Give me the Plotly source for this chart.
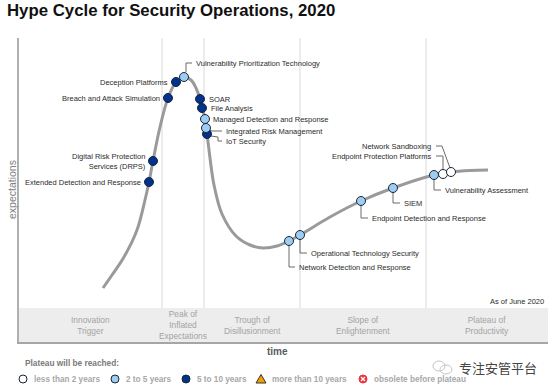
import plotly.graph_objects as go

# ---------------- data ----------------
TITLE = "Hype Cycle for Security Operations, 2020"

technologies = [
    "Extended Detection and Response", "Digital Risk Protection<br>Services (DRPS)",
    "Breach and Attack Simulation", "Deception Platforms",
    "Vulnerability Prioritization Technology", "SOAR", "File Analysis",
    "Managed Detection and Response", "Integrated Risk Management", "IoT Security",
    "Network Detection and Response", "Operational Technology Security",
    "Endpoint Detection and Response", "SIEM", "Vulnerability Assessment",
    "Endpoint Protection Platforms", "Network Sandboxing",
]
time_pos = [130, 134, 149, 157, 165, 181, 183, 186, 187, 188, 270, 281, 342, 374, 415, 424, 432]
expectation = [160, 181, 244, 260, 265, 243, 234, 223, 214, 208, 101, 107, 141, 154, 167, 168, 170]
plateau = ["5to10", "5to10", "5to10", "5to10", "2to5", "5to10", "5to10", "2to5", "2to5", "5to10",
           "2to5", "2to5", "2to5", "2to5", "2to5", "lt2", "lt2"]

curve_time = [84, 93, 105, 118, 126, 130, 134, 141, 149, 157, 165, 172, 177, 181, 185, 188, 191,
              195, 203, 217, 231, 244, 258, 270, 281, 311, 342, 374, 415, 432, 451, 469]
curve_expect = [54, 67, 85, 112, 142, 160, 181, 215, 244, 260, 265, 262, 254, 243, 227, 208, 184,
                157, 128, 106, 97, 94, 96, 101, 107, 125, 141, 154, 167, 170, 171.5, 172]

phase_names = ["Innovation<br>Trigger", "Peak of<br>Inflated<br>Expectations",
               "Trough of<br>Disillusionment", "Slope of<br>Enlightenment",
               "Plateau of<br>Productivity"]
phase_bounds = [0, 143, 185, 281, 407, 529]

legend_title = "Plateau will be reached:"
legend_keys = ["lt2", "2to5", "5to10", "gt10", "obsolete"]
legend_labels = ["less than 2 years", "2 to 5 years", "5 to 10 years",
                 "more than 10 years", "obsolete before plateau"]

# ---------------- styles ----------------
FONT = "Liberation Sans, Arial, sans-serif"
FILL = {"lt2": "#ffffff", "2to5": "#9dcdf3", "5to10": "#00338d"}
EDGE = "#1c2438"
X_MAX, Y_MAX = 529, 304
L, T = 19, 38


def px(x):
    return (x - L) / X_MAX


def py(y):
    return (342 - y) / Y_MAX


# label placement: (kind, text dx, text dy, leader path offsets)
LABEL_LAYOUT = {
    "Extended Detection and Response": ("left", -6, 0, None),
    "Digital Risk Protection<br>Services (DRPS)": ("left", -5, 0, None),
    "Breach and Attack Simulation": ("left", -6, 0, None),
    "Deception Platforms": ("left", -6, 0, None),
    "Vulnerability Prioritization Technology": ("right", 10, 14, [(2, 5), (2, 14), (8, 14)]),
    "SOAR": ("right", 7, 0, None),
    "File Analysis": ("right", 7, 0, None),
    "Managed Detection and Response": ("right", 6, 0, None),
    "Integrated Risk Management": ("right", 18, -3, [(3, -2), (6, -3), (16, -3)]),
    "IoT Security": ("right", 17, -7, [(4, -2), (11, -3), (11, -7), (15, -7)]),
    "Network Detection and Response": ("right", 8, -26, [(0, -4), (0, -26), (6, -26)]),
    "Operational Technology Security": ("right", 9, -18, [(0, -4), (0, -18), (7, -18)]),
    "Endpoint Detection and Response": ("right", 9, -17, [(0, -4), (0, -17), (7, -17)]),
    "SIEM": ("right", 9, -15, [(0, -4), (0, -15), (7, -15)]),
    "Vulnerability Assessment": ("right", 9, -15, [(0, -4), (0, -15), (7, -15)]),
    "Endpoint Protection Platforms": ("left", -10, 18, [(0, 4), (0, 18), (-7, 18)]),
    "Network Sandboxing": ("left", -18, 26, [(-1, 4), (-9, 26), (-15, 26)]),
}

fig = go.Figure()

# hype curve
fig.add_trace(go.Scatter(x=curve_time, y=curve_expect, mode="lines",
                         line=dict(color="#9a9a9a", width=3, shape="spline", smoothing=1.0),
                         hoverinfo="skip", showlegend=False))

# leader lines
lx, ly = [], []
for name, t, e in zip(technologies, time_pos, expectation):
    path = LABEL_LAYOUT[name][3]
    if path:
        for dx, dy in path:
            lx.append(t + dx)
            ly.append(e + dy)
        lx.append(None)
        ly.append(None)
fig.add_trace(go.Scatter(x=lx, y=ly, mode="lines", line=dict(color="#6b6b6b", width=1),
                         hoverinfo="skip", showlegend=False))

# technology dots
for key in ["5to10", "2to5", "lt2"]:
    xs = [t for t, p in zip(time_pos, plateau) if p == key]
    ys = [e for e, p in zip(expectation, plateau) if p == key]
    fig.add_trace(go.Scatter(x=xs, y=ys, mode="markers",
                             marker=dict(size=9, color=FILL[key], line=dict(color=EDGE, width=1)),
                             hoverinfo="skip", showlegend=False))

annotations = []
for name, t, e in zip(technologies, time_pos, expectation):
    kind, dx, dy, _ = LABEL_LAYOUT[name]
    annotations.append(dict(x=t + dx, y=e + dy, xref="x", yref="y", text=name, showarrow=False,
                            xanchor="right" if kind == "left" else "left",
                            align="right" if kind == "left" else "left",
                            yanchor="middle",
                            font=dict(family=FONT, size=7.5, color="#2b2b2b")))

shapes = []
# phase band
shapes.append(dict(type="rect", xref="x", yref="y", x0=0, x1=X_MAX, y0=0, y1=34,
                   fillcolor="#ededed", line=dict(width=0), layer="below"))
# dividers
for b in phase_bounds[1:-1]:
    shapes.append(dict(type="line", xref="x", yref="y", x0=b, x1=b, y0=34, y1=Y_MAX,
                       line=dict(color="#d9d9d9", width=1), layer="below"))
# phase labels
for i, nm in enumerate(phase_names):
    cx = (phase_bounds[i] + phase_bounds[i + 1]) / 2
    annotations.append(dict(x=cx, y=17, xref="x", yref="y", text=nm, showarrow=False,
                            xanchor="center", yanchor="middle", align="center",
                            font=dict(family=FONT, size=8.4, color="#a3a3a3")))

annotations.append(dict(x=px(546), y=py(301), xref="paper", yref="paper", text="As of June 2020",
                        showarrow=False, xanchor="right", yanchor="middle",
                        font=dict(family=FONT, size=7.5, color="#2b2b2b")))

# title & axis titles
annotations.append(dict(x=px(5), y=py(11), xref="paper", yref="paper", text="<b>" + TITLE + "</b>",
                        showarrow=False, xanchor="left", yanchor="middle",
                        font=dict(family=FONT, size=16.8, color="#111111")))
annotations.append(dict(x=px(12), y=py(190), xref="paper", yref="paper", text="expectations",
                        showarrow=False, xanchor="center", yanchor="middle", textangle=-90,
                        font=dict(family=FONT, size=10.5, color="#808080")))
annotations.append(dict(x=px(277), y=py(351), xref="paper", yref="paper", text="<b>time</b>",
                        showarrow=False, xanchor="center", yanchor="middle",
                        font=dict(family=FONT, size=10, color="#5a5a5a")))

# legend
annotations.append(dict(x=px(23), y=py(363), xref="paper", yref="paper",
                        text="<b>" + legend_title + "</b>", showarrow=False,
                        xanchor="left", yanchor="middle",
                        font=dict(family=FONT, size=8.3, color="#7a7a7a")))
LEG_MARK_X = [23, 115, 186, 261, 363]
LEG_Y = 379
for key, lab, mx in zip(legend_keys, legend_labels, LEG_MARK_X):
    r = 4
    if key in FILL:
        shapes.append(dict(type="circle", xref="paper", yref="paper",
                           x0=px(mx - r), x1=px(mx + r), y0=py(LEG_Y + r), y1=py(LEG_Y - r),
                           fillcolor=FILL[key], line=dict(color=EDGE, width=1)))
    elif key == "gt10":
        shapes.append(dict(type="path", xref="paper", yref="paper",
                           path=f"M {px(mx-5)} {py(LEG_Y+4)} L {px(mx+5)} {py(LEG_Y+4)} "
                                f"L {px(mx)} {py(LEG_Y-4.5)} Z",
                           fillcolor="#f5a000", line=dict(color="#333333", width=1)))
    else:
        shapes.append(dict(type="circle", xref="paper", yref="paper",
                           x0=px(mx - r), x1=px(mx + r), y0=py(LEG_Y + r), y1=py(LEG_Y - r),
                           fillcolor="#e8353b", line=dict(color="#e8353b", width=1)))
        for a, b in [((-2, -2), (2, 2)), ((-2, 2), (2, -2))]:
            shapes.append(dict(type="line", xref="paper", yref="paper",
                               x0=px(mx + a[0]), y0=py(LEG_Y + a[1]),
                               x1=px(mx + b[0]), y1=py(LEG_Y + b[1]),
                               line=dict(color="#ffffff", width=1.2)))
    annotations.append(dict(x=px(mx + 9), y=py(LEG_Y), xref="paper", yref="paper",
                            text="<b>" + lab + "</b>", showarrow=False,
                            xanchor="left", yanchor="middle",
                            font=dict(family=FONT, size=8.2, color="#a8a8a8")))

# watermark
shapes.append(dict(type="circle", xref="paper", yref="paper", x0=px(433), x1=px(445),
                   y0=py(371), y1=py(361), line=dict(color="#c4c4c4", width=1)))
shapes.append(dict(type="circle", xref="paper", yref="paper", x0=px(440), x1=px(452),
                   y0=py(374), y1=py(365), line=dict(color="#c4c4c4", width=1)))
annotations.append(dict(x=px(457), y=py(367), xref="paper", yref="paper", text="专注安管平台",
                        showarrow=False, xanchor="left", yanchor="middle",
                        font=dict(family="Noto Sans CJK SC", size=13, color="#444444")))

fig.update_layout(
    width=554, height=392, autosize=False,
    margin=dict(l=L, r=6, t=T, b=50, pad=0),
    paper_bgcolor="#ffffff", plot_bgcolor="#ffffff",
    xaxis=dict(range=[0, X_MAX], showgrid=False, zeroline=False, showticklabels=False,
               ticks="", showline=True, linecolor="#a6a6a6", linewidth=2, fixedrange=True),
    yaxis=dict(range=[0, Y_MAX], showgrid=False, zeroline=False, showticklabels=False,
               ticks="", showline=True, linecolor="#b0b0b0", linewidth=1.5, fixedrange=True),
    shapes=shapes, annotations=annotations, showlegend=False,
)

fig.write_html("out.html", config={"displayModeBar": False},
               post_script="document.body.style.margin='0';document.body.style.overflow='hidden';")
